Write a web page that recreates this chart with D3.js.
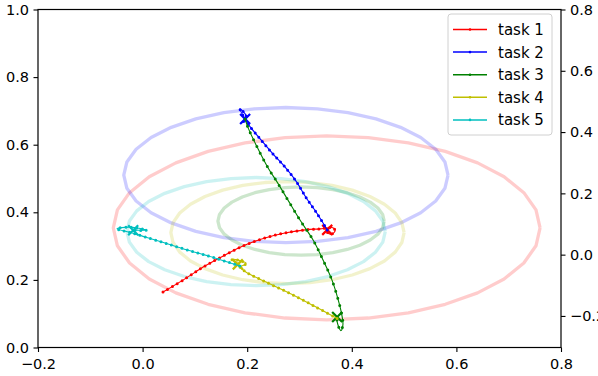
<!DOCTYPE html>
<html>
<head>
<meta charset="utf-8">
<script src="https://cdn.jsdelivr.net/npm/d3@7"></script>
<style>
body{margin:0;background:#fff;}
svg{display:block;font-family:"DejaVu Sans",sans-serif;}
</style>
</head>
<body>
<div id="wrapper"></div>
<script>
// legend names + matplotlib single-letter colours r b g y c
const taskNames = ["task 1", "task 2", "task 3", "task 4", "task 5"];
const taskColors = ["#ff0000", "#0000ff", "#008000", "#bfbf00", "#00bfbf"];

// faint ellipses: centre and radii, in left-axis units
const ellCx = [0.352, 0.274, 0.303, 0.277, 0.217];
const ellCy = [0.354, 0.510, 0.374, 0.340, 0.343];
const ellRx = [0.408, 0.310, 0.159, 0.223, 0.247];
const ellRy = [0.272, 0.200, 0.101, 0.151, 0.160];

// trajectories, each ends on an "x"
const task1 = [[0.039,0.164],[0.081,0.203],[0.119,0.241],[0.158,0.274],[0.196,0.303],[0.234,0.324],[0.272,0.339],[0.311,0.348],[0.339,0.351],[0.364,0.354],[0.368,0.345],[0.362,0.336],[0.354,0.339],[0.353,0.348]];
const task2 = [[0.353,0.348],[0.333,0.398],[0.314,0.440],[0.293,0.493],[0.270,0.538],[0.249,0.573],[0.226,0.615],[0.205,0.654],[0.198,0.670],[0.186,0.706],[0.198,0.685],[0.192,0.665],[0.196,0.676]];
const task3 = [[0.196,0.676],[0.202,0.649],[0.219,0.593],[0.240,0.531],[0.257,0.490],[0.278,0.436],[0.301,0.377],[0.326,0.318],[0.345,0.259],[0.362,0.200],[0.374,0.141],[0.381,0.096],[0.383,0.067],[0.379,0.050],[0.372,0.076],[0.372,0.090]];
const task4 = [[0.372,0.086],[0.330,0.121],[0.282,0.160],[0.234,0.195],[0.196,0.225],[0.179,0.249],[0.171,0.260],[0.186,0.257],[0.198,0.249],[0.186,0.240],[0.182,0.246]];
const task5 = [[0.186,0.241],[0.138,0.265],[0.091,0.286],[0.043,0.309],[0.005,0.327],[-0.020,0.339],[-0.049,0.351],[-0.024,0.356],[0.008,0.347],[-0.018,0.347]];
const trajectories = [task1, task2, task3, task4, task5];
const dotGap = [5.5, 5.5, 7.5, 5.5, 5.5];

const xTicks = [-0.2, 0, 0.2, 0.4, 0.6, 0.8];
const yTicks = [0, 0.2, 0.4, 0.6, 0.8, 1.0];
const y2Ticks = [-0.2, 0, 0.2, 0.4, 0.6, 0.8];

const width = 598, height = 376;
const mLeft = 38, mRight = 561, mTop = 9.5, mBottom = 347.5;

const svg = d3.select("#wrapper").append("svg")
	.attr("width", width)
	.attr("height", height);

const x = d3.scaleLinear().domain([-0.2, 0.8]).range([mLeft, mRight]);
const y = d3.scaleLinear().domain([0, 1]).range([mBottom, mTop]);
const y2 = d3.scaleLinear().domain([-0.303, 0.8]).range([mBottom, mTop]);

// ellipses as closed polygons
const nSeg = 32;
const ellLine = d3.line().x(d => x(d[0])).y(d => y(d[1]));
for (let i = 0; i < ellCx.length; i++) {
	const pts = d3.range(nSeg + 1).map(k => {
		const t = k / nSeg * 2 * Math.PI;
		return [ellCx[i] + ellRx[i] * Math.cos(t), ellCy[i] + ellRy[i] * Math.sin(t)];
	});
	svg.append("path")
		.attr("d", ellLine(pts))
		.attr("fill", "none")
		.attr("stroke", taskColors[i])
		.attr("stroke-opacity", 0.2)
		.attr("stroke-width", 3.3)
		.attr("stroke-linejoin", "round");
}

// trajectories: thin line + dots + x at the end
const trajLine = d3.line().x(d => x(d[0])).y(d => y(d[1])).curve(d3.curveCatmullRom.alpha(0.5));
trajectories.forEach((tr, i) => {
	const d = trajLine(tr);
	svg.append("path").attr("d", d)
		.attr("fill", "none").attr("stroke", taskColors[i]).attr("stroke-width", 1.1);
	svg.append("path").attr("d", d)
		.attr("fill", "none").attr("stroke", taskColors[i])
		.attr("stroke-width", 3).attr("stroke-linecap", "round")
		.attr("stroke-dasharray", "0 " + dotGap[i]);
	const end = tr[tr.length - 1];
	const ex = x(end[0]), ey = y(end[1]), s = 5;
	svg.append("path")
		.attr("d", `M${ex - s},${ey - s}L${ex + s},${ey + s}M${ex - s},${ey + s}L${ex + s},${ey - s}`)
		.attr("stroke", taskColors[i]).attr("stroke-width", 2.2).attr("fill", "none");
});

// axes
const fmt = d3.format(".1f");
const axB = svg.append("g").attr("transform", `translate(0,${mBottom})`)
	.call(d3.axisBottom(x).tickValues(xTicks).tickFormat(fmt).tickSizeInner(4.5).tickSizeOuter(0).tickPadding(7));
const axL = svg.append("g").attr("transform", `translate(${mLeft},0)`)
	.call(d3.axisLeft(y).tickValues(yTicks).tickFormat(fmt).tickSizeInner(4.5).tickSizeOuter(0).tickPadding(4.5));
const axR = svg.append("g").attr("transform", `translate(${mRight},0)`)
	.call(d3.axisRight(y2).tickValues(y2Ticks).tickFormat(fmt).tickSizeInner(4.5).tickSizeOuter(0).tickPadding(4.5));
[axB, axL, axR].forEach(a => {
	a.selectAll("text").attr("font-size", 14.5).attr("fill", "#000").attr("font-family", "DejaVu Sans");
	a.selectAll("line").attr("stroke", "#000").attr("stroke-width", 1.1);
	a.select(".domain").remove();
});

// frame
svg.append("rect")
	.attr("x", mLeft).attr("y", mTop)
	.attr("width", mRight - mLeft).attr("height", mBottom - mTop)
	.attr("fill", "none").attr("stroke", "#000").attr("stroke-width", 1.2);

// legend
const lg = svg.append("g");
lg.append("rect")
	.attr("x", 448).attr("y", 14).attr("width", 104).attr("height", 121)
	.attr("rx", 3).attr("fill", "#fff").attr("fill-opacity", 0.8)
	.attr("stroke", "#d0d0d0");
taskNames.forEach((name, i) => {
	const ly = 29.5 + i * 22.6;
	lg.append("line").attr("x1", 453).attr("x2", 487).attr("y1", ly).attr("y2", ly)
		.attr("stroke", taskColors[i]).attr("stroke-width", 1.5);
	lg.append("circle").attr("cx", 470).attr("cy", ly).attr("r", 1.3).attr("fill", taskColors[i]);
	lg.append("text").attr("x", 498).attr("y", ly).attr("dy", "0.36em")
		.attr("font-size", 15).attr("fill", "#000").text(name);
});
</script>
</body>
</html>
